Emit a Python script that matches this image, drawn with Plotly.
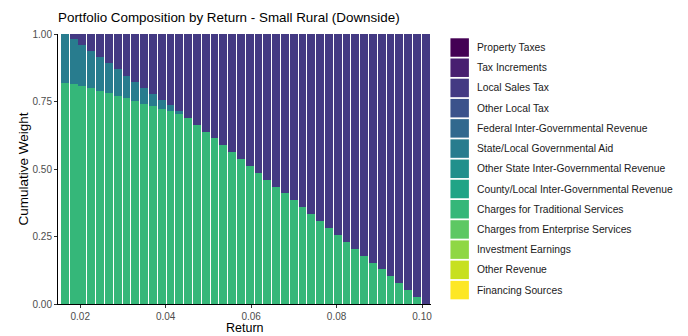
import plotly.graph_objects as go

# Revenue categories (legend order) and their viridis colours
categories = [
    "Property Taxes", "Tax Increments", "Local Sales Tax", "Other Local Tax",
    "Federal Inter-Governmental Revenue", "State/Local Governmental Aid",
    "Other State Inter-Governmental Revenue", "County/Local Inter-Governmental Revenue",
    "Charges for Traditional Services", "Charges from Enterprise Services",
    "Investment Earnings", "Other Revenue", "Financing Sources",
]
colors = [
    "#440154", "#481F70", "#443A83", "#3B528B", "#31688E", "#287C8E", "#21908C",
    "#20A486", "#35B779", "#5DC863", "#8FD744", "#C7E020", "#FDE725",
]

# Target returns
returns = [
    0.01640, 0.01846, 0.02052, 0.02258, 0.02464, 0.02670, 0.02876, 0.03082,
    0.03288, 0.03494, 0.03700, 0.03906, 0.04112, 0.04318, 0.04524, 0.04730,
    0.04936, 0.05142, 0.05348, 0.05554, 0.05760, 0.05966, 0.06172, 0.06378,
    0.06584, 0.06790, 0.06996, 0.07202, 0.07408, 0.07614, 0.07820, 0.08026,
    0.08232, 0.08438, 0.08644, 0.08850, 0.09056, 0.09262, 0.09468, 0.09674,
    0.09880, 0.10086,
]

# Portfolio weights per return
charges_traditional = [
    0.820, 0.815, 0.808, 0.800, 0.790, 0.781, 0.772, 0.762, 0.752, 0.742,
    0.734, 0.724, 0.714, 0.704, 0.688, 0.664, 0.638, 0.613, 0.590, 0.564,
    0.538, 0.512, 0.487, 0.460, 0.435, 0.410, 0.384, 0.359, 0.333, 0.308,
    0.283, 0.256, 0.231, 0.205, 0.179, 0.153, 0.129, 0.103, 0.077, 0.052,
    0.027, 0.000,
]
state_local_aid = [
    0.180, 0.165, 0.151, 0.137, 0.124, 0.111, 0.098, 0.084, 0.072, 0.059,
    0.044, 0.032, 0.022, 0.010, 0.000, 0.000, 0.000, 0.000, 0.000, 0.000,
    0.000, 0.000, 0.000, 0.000, 0.000, 0.000, 0.000, 0.000, 0.000, 0.000,
    0.000, 0.000, 0.000, 0.000, 0.000, 0.000, 0.000, 0.000, 0.000, 0.000,
    0.000, 0.000,
]
local_sales_tax = [
    0.000, 0.020, 0.041, 0.063, 0.086, 0.108, 0.130, 0.154, 0.176, 0.199,
    0.222, 0.244, 0.264, 0.286, 0.312, 0.336, 0.362, 0.387, 0.410, 0.436,
    0.462, 0.488, 0.513, 0.540, 0.565, 0.590, 0.616, 0.641, 0.667, 0.692,
    0.717, 0.744, 0.769, 0.795, 0.821, 0.847, 0.871, 0.897, 0.923, 0.948,
    0.973, 1.000,
]

x_ticks = [0.02, 0.04, 0.06, 0.08, 0.10]
y_ticks = [0.00, 0.25, 0.50, 0.75, 1.00]

FONT = "Liberation Sans, Arial, sans-serif"
W, H = 688, 336
ML, MR, MT, MB = 57.5, 256.5, 34, 31.5
PW, PH = W - ML - MR, H - MT - MB
bar_width = 0.00185

fig = go.Figure()
series = [
    ("Charges for Traditional Services", charges_traditional),
    ("State/Local Governmental Aid", state_local_aid),
    ("Local Sales Tax", local_sales_tax),
]
for name, vals in series:
    fig.add_trace(go.Bar(
        x=returns, y=vals, name=name, width=bar_width,
        marker=dict(color=colors[categories.index(name)], line=dict(width=0)),
        showlegend=False,
    ))


def px_x(px):
    return (px - ML) / PW


def px_y(py):
    return (H - MB - py) / PH


# Legend: coloured keys with labels
shapes = []
annotations = []
key_top0, pitch, key = 38.3, 20.25, 18.5
for i, (cat, col) in enumerate(zip(categories, colors)):
    top = key_top0 + i * pitch
    shapes.append(dict(
        type="rect", xref="paper", yref="paper",
        x0=px_x(451), x1=px_x(451 + key), y0=px_y(top + key), y1=px_y(top),
        fillcolor=col, line=dict(width=0), layer="above",
    ))
    annotations.append(dict(
        text=cat, xref="paper", yref="paper", x=px_x(476), y=px_y(top + key / 2),
        xanchor="left", yanchor="middle", showarrow=False,
        font=dict(family=FONT, size=10.3, color="#1A1A1A"),
    ))

# Axis titles
annotations.append(dict(
    text="Return", xref="paper", yref="paper", x=0.5, y=px_y(329),
    xanchor="center", yanchor="middle", showarrow=False,
    font=dict(family=FONT, size=12.5, color="#000000"),
))
annotations.append(dict(
    text="Cumulative Weight", xref="paper", yref="paper", x=px_x(22), y=0.5,
    xanchor="center", yanchor="middle", showarrow=False, textangle=-90,
    font=dict(family=FONT, size=13.5, color="#000000"),
))

fig.update_layout(
    width=W, height=H,
    margin=dict(l=ML, r=MR, t=MT, b=MB, autoexpand=False),
    barmode="stack", bargap=0,
    paper_bgcolor="white", plot_bgcolor="white",
    title=dict(
        text="Portfolio Composition by Return - Small Rural (Downside)",
        x=58 / W, xanchor="left", y=1 - 17 / H, yanchor="middle",
        font=dict(family=FONT, size=13.4, color="#000000"),
    ),
    shapes=shapes,
    annotations=annotations,
    showlegend=False,
)
fig.update_xaxes(
    range=[0.0148, 0.1021], tickvals=x_ticks, tickformat=".2f",
    showgrid=False, zeroline=False,
    showline=True, linecolor="black", linewidth=1,
    ticks="outside", ticklen=3, tickcolor="#333333", tickwidth=1,
    tickfont=dict(family=FONT, size=10, color="#4D4D4D"),
)
fig.update_yaxes(
    range=[0, 1], tickvals=y_ticks, tickformat=".2f",
    showgrid=False, zeroline=False,
    showline=True, linecolor="black", linewidth=1,
    ticks="outside", ticklen=3, tickcolor="#333333", tickwidth=1,
    tickfont=dict(family=FONT, size=10, color="#4D4D4D"),
)

fig.write_html("out.html")
